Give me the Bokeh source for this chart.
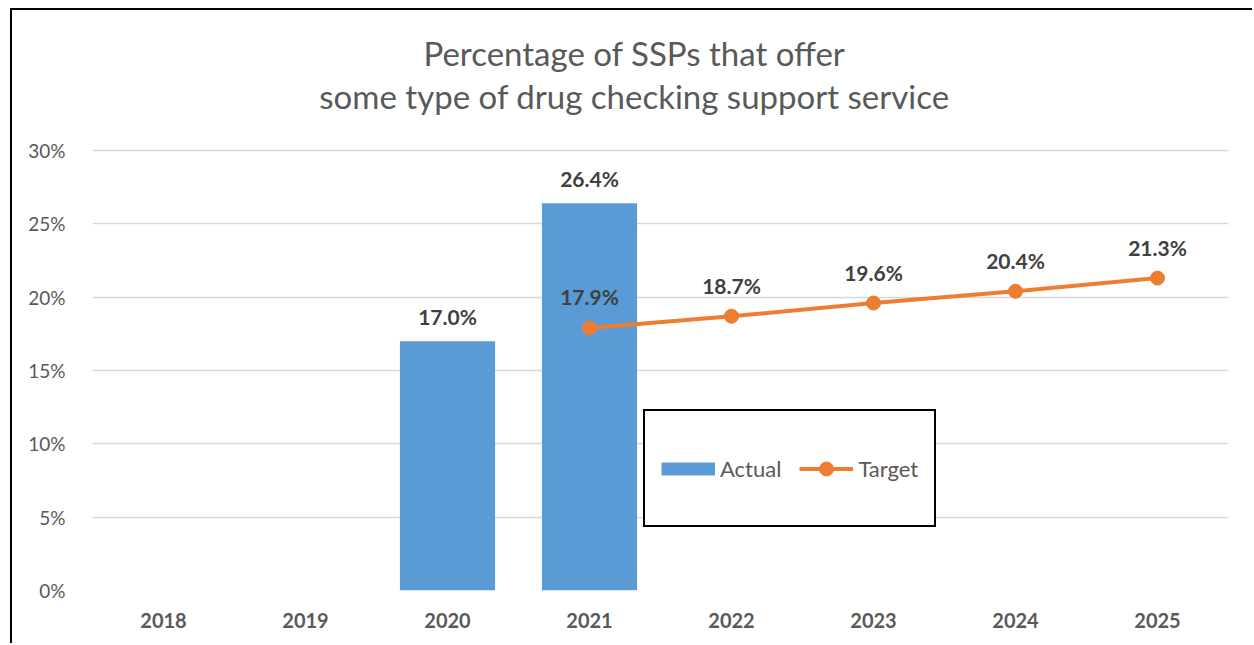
from bokeh.plotting import figure
from bokeh.models import (FactorRange, Range1d, FixedTicker, NumeralTickFormatter,
                          ColumnDataSource, LabelSet, Label, Legend, LegendItem)
from bokeh.core.properties import value
from bokeh.embed import file_html
from bokeh.resources import INLINE

years = ["2018", "2019", "2020", "2021", "2022", "2023", "2024", "2025"]
actual = [None, None, 0.170, 0.264, None, None, None, None]
target = [None, None, None, 0.179, 0.187, 0.196, 0.204, 0.213]
y_ticks = [0, 0.05, 0.10, 0.15, 0.20, 0.25, 0.30]
title_lines = ["Percentage of SSPs that offer", "some type of drug checking support service"]

FONT = "Lato"
BLUE = "#5B9BD5"
ORANGE = "#ED7D31"
GREY = "#595959"

H, BOTTOM = 635, 55
PLOT_PX = 440                       # pixel height of the 0-30% axis span
y_top = y_ticks[-1] * (H - BOTTOM) / PLOT_PX   # frame extends up to the canvas top (title area)

p = figure(x_range=FactorRange(factors=years), y_range=Range1d(0, y_top),
           width=1242, height=H, output_backend="svg", toolbar_location=None,
           min_border_left=80, min_border_right=26, min_border_top=0, min_border_bottom=BOTTOM)
p.styles = {"border-left": "2px solid black", "border-top": "2px solid black",
            "margin-left": "10px", "margin-top": "8px"}
p.outline_line_color = None

a_x = [y for y, v in zip(years, actual) if v is not None]
a_v = [v for v in actual if v is not None]
t_x = [y for y, v in zip(years, target) if v is not None]
t_v = [v for v in target if v is not None]

src_a = ColumnDataSource(dict(x=a_x, top=a_v, lab=[f"{v*100:.1f}%" for v in a_v]))
src_t = ColumnDataSource(dict(x=t_x, y=t_v, lab=[f"{v*100:.1f}%" for v in t_v]))

bars = p.vbar(x="x", top="top", width=0.67, source=src_a, fill_color=BLUE, line_color=None)
line = p.line(x="x", y="y", source=src_t, line_color=ORANGE, line_width=4)
pts = p.scatter(x="x", y="y", source=src_t, size=14, fill_color=ORANGE, line_color=ORANGE)
# legend swatch for the bars (a renderer with no drawable point, shown only in the legend)
bar_key = p.line(x=[years[0]], y=[float("nan")], line_color=BLUE, line_width=13, line_cap="butt")

p.add_layout(LabelSet(x="x", y="top", text="lab", source=src_a, y_offset=25,
                      text_align="center", text_baseline="middle", text_font=value(FONT),
                      text_font_style="bold", text_font_size="21px", text_color="#404040"))
p.add_layout(LabelSet(x="x", y="y", text="lab", source=src_t, y_offset=31,
                      text_align="center", text_baseline="middle", text_font=value(FONT),
                      text_font_style="bold", text_font_size="21px", text_color="#404040"))

# two-line title, centred on the chart area
for txt, sy in zip(title_lines, [538, 495]):
    p.add_layout(Label(x=542, y=sy, x_units="screen", y_units="screen", text=txt,
                       text_align="center", text_baseline="alphabetic",
                       text_font=FONT, text_font_size="33px", text_color=GREY))

p.yaxis.ticker = FixedTicker(ticks=y_ticks)
p.yaxis.formatter = NumeralTickFormatter(format="0%")
for ax in [p.xaxis, p.yaxis]:
    ax.axis_line_color = None
    ax.major_tick_line_color = None
    ax.minor_tick_line_color = None
    ax.major_label_text_font = FONT
    ax.major_label_text_font_size = "19px"
    ax.major_label_text_color = GREY
p.xaxis.major_label_text_font_style = "bold"
p.xaxis.major_label_text_font_size = "20px"
p.xaxis.major_label_standoff = 16
p.yaxis.major_label_standoff = 21
p.xgrid.grid_line_color = None
p.ygrid.ticker = FixedTicker(ticks=y_ticks)
p.ygrid.grid_line_color = "#D9D9D9"
p.ygrid.grid_line_width = 1.5

legend = Legend(items=[LegendItem(label="Actual", renderers=[bar_key]),
                       LegendItem(label="Target", renderers=[line, pts])],
                orientation="horizontal", location=(551, 63),
                border_line_color="black", border_line_width=2, border_line_alpha=1,
                background_fill_alpha=1, padding=16, spacing=18,
                glyph_width=54, glyph_height=35, label_height=82, label_standoff=5,
                label_text_font=FONT, label_text_font_size="22px", label_text_color=GREY)
p.add_layout(legend, "center")

open("out.html", "w").write(file_html(p, INLINE))
